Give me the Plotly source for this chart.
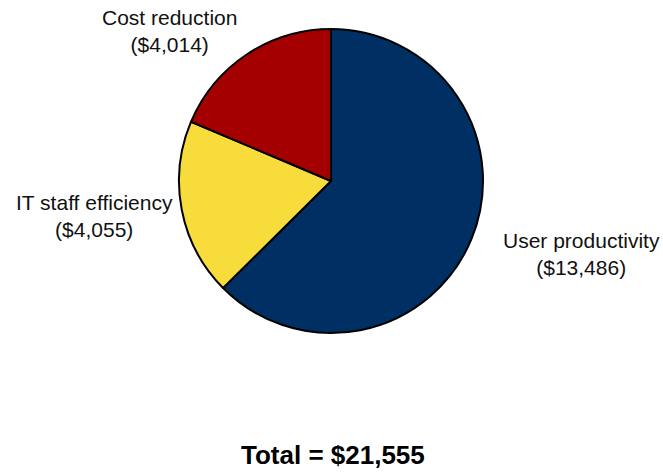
import plotly.graph_objects as go

categories = ["User productivity", "IT staff efficiency", "Cost reduction"]
values = [13486, 4055, 4014]
colors = ["#003063", "#F8DC3C", "#A50000"]
total_label = "Total = $21,555"

W, H = 663, 472
# label block centres in pixels (layout)
label_px = {
    "User productivity": (581, 254),
    "IT staff efficiency": (94, 216),
    "Cost reduction": (170, 31),
}

fig = go.Figure()
fig.add_trace(go.Pie(
    labels=categories,
    values=values,
    marker=dict(colors=colors, line=dict(color="black", width=2)),
    sort=False,
    direction="clockwise",
    rotation=0,
    textinfo="none",
    hoverinfo="label+value",
    showlegend=False,
    domain=dict(x=[179 / W, 483 / W], y=[1 - 333 / H, 1 - 29 / H]),
))

annotations = []
for cat, val in zip(categories, values):
    px, py = label_px[cat]
    annotations.append(dict(
        x=px / W, y=1 - py / H, xref="paper", yref="paper",
        text=f"{cat}<br>(${val:,})", showarrow=False,
        xanchor="center", yanchor="middle", align="center",
        font=dict(family="Liberation Sans, Arial, sans-serif", size=21, color="#111111"),
    ))
annotations.append(dict(
    x=333 / W, y=1 - 455 / H, xref="paper", yref="paper",
    text=f"<b>{total_label}</b>", showarrow=False,
    xanchor="center", yanchor="middle",
    font=dict(family="Liberation Sans, Arial, sans-serif", size=26, color="black"),
))

fig.update_layout(
    width=W, height=H,
    margin=dict(l=0, r=0, t=0, b=0),
    paper_bgcolor="white", plot_bgcolor="white",
    annotations=annotations,
)
fig.write_html(
    "out.html",
    config={"displayModeBar": False},
    post_script="document.body.style.margin='0';document.body.style.overflow='hidden';",
)
